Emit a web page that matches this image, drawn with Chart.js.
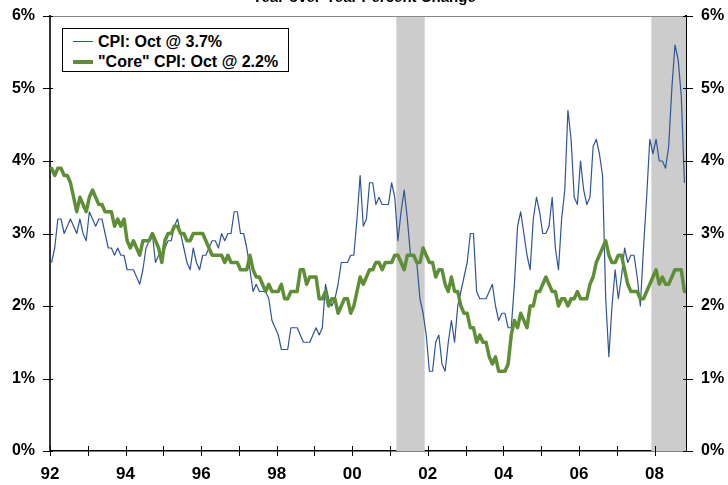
<!DOCTYPE html>
<html>
<head>
<meta charset="utf-8">
<script src="https://cdn.jsdelivr.net/npm/chart.js@4.4.1/dist/chart.umd.min.js"></script>
<style>
  body { margin: 0; background: #fff; }
  #wrap { position: relative; width: 728px; height: 485px; overflow: hidden; background: #fff; }
  #c { position: absolute; left: 0; top: -14px; }
  #legend {
    position: absolute; left: 62px; top: 28px; width: 225px; height: 42px;
    border: 1px solid #000; background: #fff;
    font: bold 16px "Liberation Sans", Arial, sans-serif; color: #000;
  }
  #legend .row { position: absolute; left: 10px; height: 20px; line-height: 20px; white-space: nowrap; }
  #legend .swatch { display: inline-block; width: 20px; vertical-align: middle; margin-right: 5px; position: relative; top: -1px; }
</style>
</head>
<body>
<div id="wrap">
  <canvas id="c" width="728" height="499"></canvas>
  <div id="legend">
    <div class="row" style="top:3px"><span class="swatch" style="border-top:1.5px solid #2F5597"></span>CPI: Oct @ 3.7%</div>
    <div class="row" style="top:23px"><span class="swatch" style="border-top:4px solid #5F8F35"></span>"Core" CPI: Oct @ 2.2%</div>
  </div>
</div>
<script>
// monthly year-over-year % change, Jan 1992 .. Oct 2008
const cpi = [
  2.6, 2.8, 3.2, 3.2, 3.0, 3.1, 3.2, 3.1, 3.0, 3.2, 3.0, 2.9,
  3.3, 3.2, 3.1, 3.2, 3.2, 3.0, 2.8, 2.8, 2.7, 2.8, 2.7, 2.7,
  2.5, 2.5, 2.5, 2.4, 2.3, 2.5, 2.8, 2.9, 3.0, 2.6, 2.7, 2.7,
  2.8, 2.9, 2.9, 3.1, 3.2, 3.0, 2.8, 2.6, 2.5, 2.8, 2.6, 2.5,
  2.7, 2.7, 2.8, 2.9, 2.9, 2.8, 3.0, 2.9, 3.0, 3.0, 3.3, 3.3,
  3.0, 3.0, 2.8, 2.5, 2.2, 2.3, 2.2, 2.2, 2.2, 2.1, 1.8, 1.7,
  1.6, 1.4, 1.4, 1.4, 1.7, 1.7, 1.7, 1.6, 1.5, 1.5, 1.5, 1.6,
  1.7, 1.6, 1.7, 2.3, 2.1, 2.0, 2.1, 2.3, 2.6, 2.6, 2.6, 2.7,
  2.7, 3.2, 3.8, 3.1, 3.2, 3.7, 3.7, 3.4, 3.5, 3.4, 3.4, 3.4,
  3.7, 3.5, 2.9, 3.3, 3.6, 3.2, 2.7, 2.7, 2.6, 2.1, 1.9, 1.6,
  1.1, 1.1, 1.5, 1.6, 1.2, 1.1, 1.5, 1.8, 1.5, 2.0, 2.2, 2.4,
  2.6, 3.0, 3.0, 2.2, 2.1, 2.1, 2.1, 2.2, 2.3, 2.0, 1.8, 1.9,
  1.9, 1.7, 1.7, 2.3, 3.1, 3.3, 3.0, 2.7, 2.5, 3.2, 3.5, 3.3,
  3.0, 3.0, 3.1, 3.5, 2.8, 2.5, 3.2, 3.6, 4.7, 4.3, 3.5, 3.4,
  4.0, 3.6, 3.4, 3.5, 4.2, 4.3, 4.1, 3.8, 2.1, 1.3, 2.0, 2.5,
  2.1, 2.4, 2.8, 2.6, 2.7, 2.7, 2.4, 2.0, 2.8, 3.5, 4.3, 4.1,
  4.3, 4.0, 4.0, 3.9, 4.2, 5.0, 5.6, 5.4, 4.9, 3.7
];
const core = [
  3.9, 3.8, 3.9, 3.9, 3.8, 3.8, 3.7, 3.5, 3.3, 3.5, 3.4, 3.3,
  3.5, 3.6, 3.5, 3.4, 3.4, 3.3, 3.3, 3.3, 3.1, 3.2, 3.1, 3.2,
  2.9, 2.8, 2.9, 2.8, 2.7, 2.9, 2.9, 2.9, 3.0, 2.9, 2.8, 2.6,
  2.9, 3.0, 3.0, 3.1, 3.1, 3.0, 3.0, 2.9, 2.9, 3.0, 3.0, 3.0,
  3.0, 2.9, 2.8, 2.7, 2.7, 2.7, 2.7, 2.6, 2.7, 2.6, 2.6, 2.6,
  2.5, 2.5, 2.5, 2.7, 2.5, 2.4, 2.4, 2.3, 2.2, 2.3, 2.2, 2.2,
  2.2, 2.3, 2.1, 2.1, 2.2, 2.2, 2.2, 2.5, 2.5, 2.3, 2.4, 2.4,
  2.4, 2.1, 2.1, 2.2, 2.0, 2.1, 2.1, 1.9, 2.0, 2.1, 2.1, 1.9,
  2.0, 2.2, 2.4, 2.3, 2.4, 2.5, 2.5, 2.6, 2.6, 2.5, 2.6, 2.6,
  2.6, 2.7, 2.7, 2.6, 2.5, 2.7, 2.7, 2.7, 2.6, 2.6, 2.8, 2.7,
  2.6, 2.6, 2.4, 2.5, 2.5, 2.3, 2.2, 2.4, 2.2, 2.2, 2.0, 1.9,
  1.9, 1.7, 1.7, 1.5, 1.6, 1.5, 1.5, 1.3, 1.2, 1.3, 1.1, 1.1,
  1.1, 1.2, 1.6, 1.8, 1.7, 1.9, 1.8, 1.7, 2.0, 2.0, 2.2, 2.2,
  2.3, 2.4, 2.3, 2.2, 2.2, 2.0, 2.1, 2.1, 2.0, 2.1, 2.1, 2.2,
  2.1, 2.1, 2.1, 2.3, 2.4, 2.6, 2.7, 2.8, 2.9, 2.7, 2.6, 2.6,
  2.7, 2.7, 2.5, 2.3, 2.2, 2.2, 2.2, 2.1, 2.1, 2.2, 2.3, 2.4,
  2.5, 2.3, 2.4, 2.3, 2.3, 2.4, 2.5, 2.5, 2.5, 2.2
];
const firstYear = 1992;
const xTickLabels = ['92', '94', '96', '98', '00', '02', '04', '06', '08'];
const yTicks = [0, 1, 2, 3, 4, 5, 6];
// recessions, in months since Jan 1992
const recessionStart = [110, 191];
const recessionEnd = [119, 202];
const monthsShown = 202;

const FONT = '"Liberation Sans", Arial, sans-serif';

function toPoints(arr) {
    return arr.map((v, i) => ({ x: i + 0.5, y: v }));
}

function yearLabel(value) {
    const yy = String(firstYear + value / 12).slice(2);
    return xTickLabels.includes(yy) ? yy : '';
}

const recessionPlugin = {
    id: 'recessions',
    beforeDatasetsDraw(chart) {
        const { ctx, chartArea: a, scales: { x } } = chart;
        ctx.save();
        ctx.fillStyle = '#cccccc';
        recessionStart.forEach((s, i) => {
            const x0 = x.getPixelForValue(s);
            const x1 = x.getPixelForValue(recessionEnd[i]);
            ctx.fillRect(x0, a.top, x1 - x0, a.bottom - a.top);
        });
        ctx.restore();
    }
};

const frameTicks = {
    id: 'frameTicks',
    afterDatasetsDraw(chart) {
        const { ctx, chartArea: a, scales: { x, y, y2 } } = chart;
        ctx.save();
        ctx.strokeStyle = '#888';
        ctx.lineWidth = 1;
        ctx.beginPath();
        ctx.moveTo(a.left - 7, a.top + 0.5);
        ctx.lineTo(a.right + 7, a.top + 0.5);
        ctx.stroke();

        ctx.strokeStyle = '#000';
        ctx.beginPath();
        x.ticks.forEach(t => {
            const px = Math.round(x.getPixelForValue(t.value)) + 0.5;
            ctx.moveTo(px, a.bottom - 5);
            ctx.lineTo(px, a.bottom + 5);
        });
        y.ticks.forEach(t => {
            const py = Math.round(y.getPixelForValue(t.value)) + 0.5;
            ctx.moveTo(a.left - 7, py);
            ctx.lineTo(a.left + 3, py);
        });
        y2.ticks.forEach(t => {
            const py = Math.round(y2.getPixelForValue(t.value)) + 0.5;
            ctx.moveTo(a.right - 3, py);
            ctx.lineTo(a.right + 7, py);
        });
        ctx.stroke();
        ctx.restore();
    }
};

const yAxis = (position, width, color) => ({
    position: position,
    min: yTicks[0],
    max: yTicks[yTicks.length - 1],
    afterBuildTicks: s => { s.ticks = yTicks.map(v => ({ value: v })); },
    afterFit: s => { s.width = width; },
    grid: { drawOnChartArea: false, drawTicks: false },
    border: { display: true, color: color, width: 2 },
    ticks: {
        padding: 15,
        color: '#000',
        font: { family: FONT, size: 16, weight: 'bold' },
        callback: v => v + '%'
    }
});

new Chart(document.getElementById('c').getContext('2d'), {
    type: 'line',
    data: {
        datasets: [{
            label: 'CPI: Oct @ 3.7%',
            data: toPoints(cpi),
            borderColor: '#2F5597',
            borderWidth: 1.2,
            borderJoinStyle: 'round',
            pointRadius: 0,
            tension: 0,
            order: 2
        }, {
            label: '"Core" CPI: Oct @ 2.2%',
            data: toPoints(core),
            borderColor: '#5F8F35',
            borderWidth: 3.5,
            borderJoinStyle: 'round',
            borderCapStyle: 'round',
            pointRadius: 0,
            tension: 0,
            order: 1
        }]
    },
    options: {
        responsive: false,
        animation: false,
        layout: { padding: 0 },
        plugins: {
            legend: { display: false },
            tooltip: { enabled: false },
            title: {
                display: true,
                text: 'Year-over-Year Percent Change',
                color: '#000',
                font: { family: FONT, size: 15, weight: 'bold' },
                padding: { top: 3, bottom: 9 }
            }
        },
        scales: {
            x: {
                type: 'linear',
                min: 0,
                max: monthsShown,
                afterBuildTicks: s => {
                    const t = [];
                    for (let m = 0; m <= monthsShown; m += 12) t.push({ value: m });
                    s.ticks = t;
                },
                afterFit: s => { s.height = 34; },
                grid: { drawOnChartArea: false, drawTicks: false },
                border: { display: true, color: '#000', width: 1.5 },
                ticks: {
                    autoSkip: false,
                    maxRotation: 0,
                    padding: 13,
                    color: '#000',
                    font: { family: FONT, size: 17, weight: 'bold' },
                    callback: yearLabel
                }
            },
            y: yAxis('left', 50, '#333'),
            y2: yAxis('right', 42, '#000')
        }
    },
    plugins: [recessionPlugin, frameTicks]
});
</script>
</body>
</html>
